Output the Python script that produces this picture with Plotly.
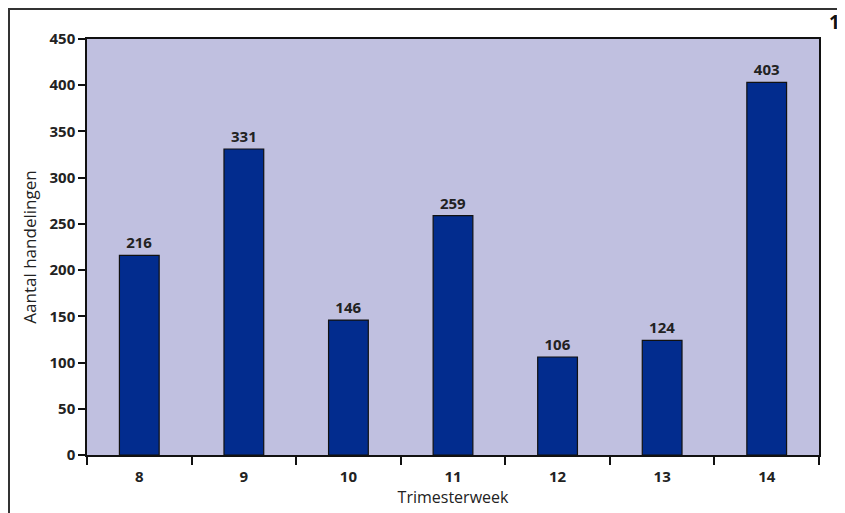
import plotly.graph_objects as go

weeks = ["8", "9", "10", "11", "12", "13", "14"]
counts = [216, 331, 146, 259, 106, 124, 403]
y_ticks = [0, 50, 100, 150, 200, 250, 300, 350, 400, 450]

# page offset (body margin) compensation
OFF = 8
L, T = 87 - OFF, 39 - OFF
R = 845 - (819 - OFF)
B = 513 - (455 - OFF)
PW, PH = 845 - L - R, 513 - T - B

fig = go.Figure()
fig.add_trace(go.Bar(
    x=weeks, y=counts, width=0.38,
    marker=dict(color="#022c8e", line=dict(color="#111111", width=1.2)),
    text=[str(c) for c in counts], textposition="outside",
    textfont=dict(family="Open Sans", size=15, color="#222222", weight="bold"),
    cliponaxis=False,
))

fig.update_layout(
    width=845, height=513,
    margin=dict(l=L, r=R, t=T, b=B),
    paper_bgcolor="white", plot_bgcolor="#c0c0e0",
    showlegend=False, bargap=0.62,
    font=dict(family="Open Sans", color="#222222"),
)
fig.update_xaxes(
    type="category", range=[-0.5, 6.5], tickson="boundaries",
    ticks="outside", ticklen=8, tickwidth=1.5, tickcolor="#111111",
    showline=True, linecolor="#111111", linewidth=1.5, mirror=True,
    showgrid=False, ticklabelstandoff=7,
    tickfont=dict(family="Open Sans", size=15, weight="bold", color="#222222"),
    title=dict(text="Trimesterweek", font=dict(family="Open Sans", size=16, color="#222222"), standoff=2),
)
fig.update_yaxes(
    range=[0, 450], tickvals=y_ticks,
    ticks="outside", ticklen=7, tickwidth=1.5, tickcolor="#111111",
    showline=True, linecolor="#111111", linewidth=1.5, mirror=True,
    showgrid=False, zeroline=False,
    tickfont=dict(family="Open Sans", size=15, weight="bold", color="#222222"),
    title=dict(text="Aantal handelingen", font=dict(family="Open Sans", size=17, color="#222222"), standoff=9),
)

fig.add_shape(type="rect", xref="paper", yref="paper",
              x0=(1 - L) / PW, x1=1.2, y0=-0.3, y1=(T + PH - 1) / PH,
              line=dict(color="#333333", width=2), fillcolor="rgba(0,0,0,0)", layer="above")
fig.add_annotation(text="<b>1</b>", xref="paper", yref="paper",
                   x=(834 - OFF - L) / PW, y=(T + PH - (22 - OFF)) / PH, showarrow=False,
                   xanchor="center", yanchor="middle",
                   font=dict(family="Open Sans", size=19, color="#111111"))

fig.write_html("out.html")
